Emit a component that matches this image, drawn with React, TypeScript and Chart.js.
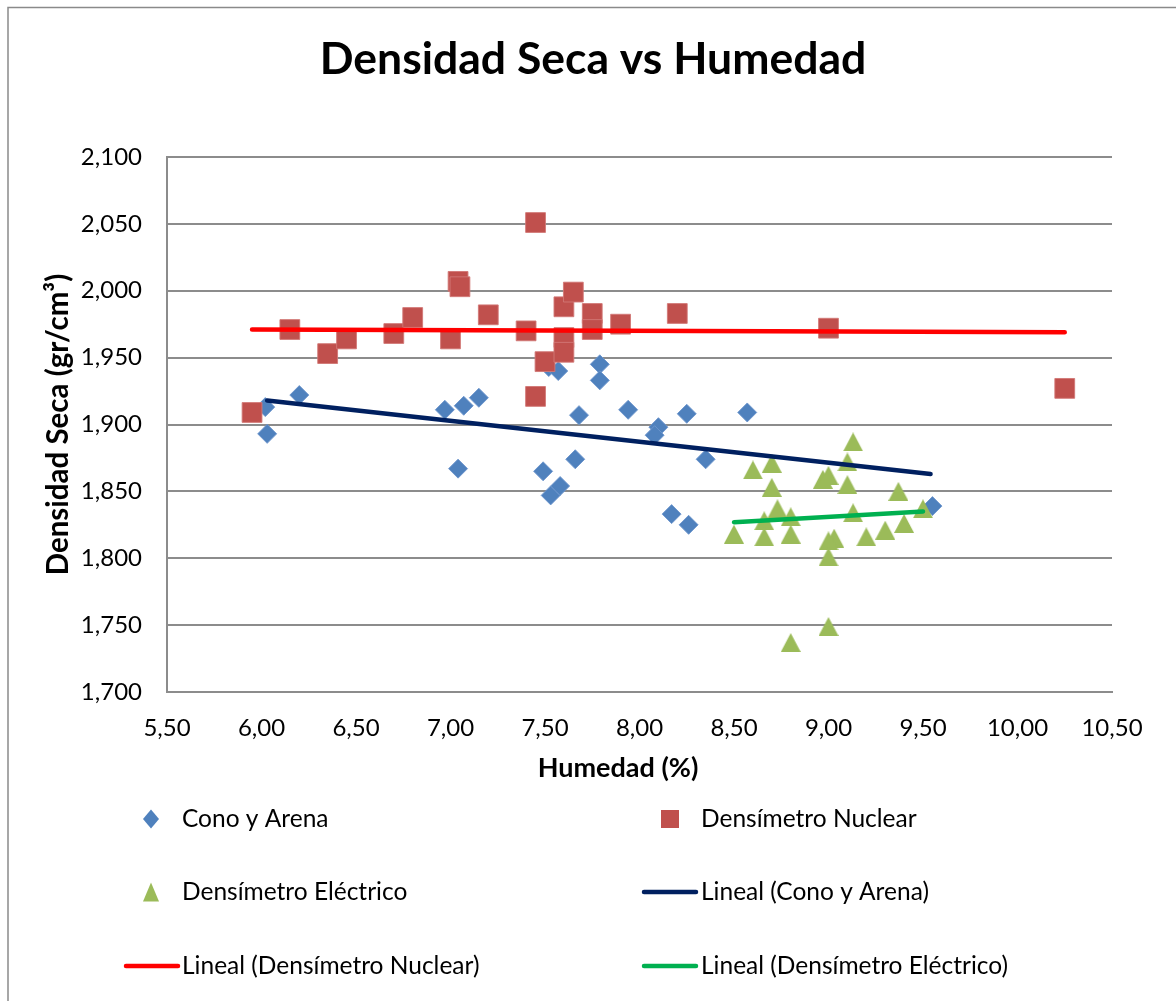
import React, { useEffect, useRef } from 'react';
import { Chart, registerables } from 'chart.js';

Chart.register(...registerables);

// ---------- Data ----------
const X_TICKS = [5.5, 6.0, 6.5, 7.0, 7.5, 8.0, 8.5, 9.0, 9.5, 10.0, 10.5];
const Y_TICKS = [1.7, 1.75, 1.8, 1.85, 1.9, 1.95, 2.0, 2.05, 2.1];

const CONO_X = [6.02, 6.03, 6.20, 6.97, 7.07, 7.15, 7.04, 7.49, 7.53, 7.58, 7.66, 7.68, 7.52, 7.57, 7.79, 7.79, 7.94, 8.10, 8.08, 8.25, 8.35, 8.17, 8.26, 8.57, 9.55];
const CONO_Y = [1.913, 1.893, 1.922, 1.911, 1.914, 1.920, 1.867, 1.865, 1.847, 1.854, 1.874, 1.907, 1.943, 1.940, 1.945, 1.933, 1.911, 1.898, 1.892, 1.908, 1.874, 1.833, 1.825, 1.909, 1.839];

const NUCLEAR_X = [5.95, 6.15, 6.35, 6.45, 6.70, 6.80, 7.00, 7.04, 7.05, 7.20, 7.40, 7.45, 7.45, 7.50, 7.60, 7.60, 7.60, 7.65, 7.75, 7.75, 7.90, 8.20, 9.00, 10.25];
const NUCLEAR_Y = [1.909, 1.971, 1.953, 1.964, 1.968, 1.980, 1.964, 2.007, 2.003, 1.982, 1.970, 2.051, 1.921, 1.947, 1.988, 1.965, 1.954, 1.999, 1.983, 1.971, 1.975, 1.983, 1.972, 1.927];

const ELECTRICO_X = [9.13, 9.10, 8.70, 8.60, 8.97, 9.00, 9.10, 8.70, 9.37, 9.50, 8.73, 8.80, 8.66, 9.13, 8.50, 8.66, 8.80, 9.03, 9.00, 9.00, 9.20, 9.30, 9.40, 9.00, 8.80];
const ELECTRICO_Y = [1.887, 1.872, 1.871, 1.866, 1.859, 1.862, 1.855, 1.853, 1.850, 1.837, 1.837, 1.831, 1.828, 1.834, 1.818, 1.816, 1.818, 1.815, 1.813, 1.801, 1.816, 1.821, 1.826, 1.749, 1.737];

// Trend line endpoints
const TREND_CONO_X = [6.03, 9.54];
const TREND_CONO_Y = [1.918, 1.863];
const TREND_NUCLEAR_X = [5.95, 10.25];
const TREND_NUCLEAR_Y = [1.971, 1.969];
const TREND_ELECTRICO_X = [8.50, 9.50];
const TREND_ELECTRICO_Y = [1.827, 1.835];

const TITLE = 'Densidad Seca vs Humedad';
const X_TITLE = 'Humedad (%)';
const Y_TITLE = 'Densidad Seca (gr/cm³)';
const LEGEND_LABELS = [
  'Cono y Arena',
  'Densímetro Nuclear',
  'Densímetro Eléctrico',
  'Lineal (Cono y Arena)',
  'Lineal (Densímetro Nuclear)',
  'Lineal (Densímetro Eléctrico)',
];

const BLUE = '#4F81BD';
const RED = '#C0504D';
const GREEN = '#9BBB59';
const NAVY = '#002060';
const TREND_RED = '#FF0000';
const TREND_GREEN = '#00B050';
const GRID = '#8c8c8c';
const FONT = 'Lato, "Open Sans", sans-serif';

const zip = (xs: number[], ys: number[]) => xs.map((x, i) => ({ x, y: ys[i] }));
const fmt = (v: number, d: number) => Number(v).toFixed(d).replace('.', ',');

function makeTriangle(color: string, w: number, h: number) {
  const c = document.createElement('canvas');
  c.width = w;
  c.height = h;
  const ctx = c.getContext('2d')!;
  ctx.fillStyle = color;
  ctx.beginPath();
  ctx.moveTo(w / 2, 0);
  ctx.lineTo(w, h);
  ctx.lineTo(0, h);
  ctx.closePath();
  ctx.fill();
  return c;
}

function drawDiamond(ctx: CanvasRenderingContext2D, x: number, y: number, rx: number, ry: number, color: string) {
  ctx.fillStyle = color;
  ctx.beginPath();
  ctx.moveTo(x, y - ry);
  ctx.lineTo(x + rx, y);
  ctx.lineTo(x, y + ry);
  ctx.lineTo(x - rx, y);
  ctx.closePath();
  ctx.fill();
}

const decorPlugin = {
  id: 'decor',
  beforeDraw(chart: any) {
    const ctx = chart.ctx as CanvasRenderingContext2D;
    ctx.save();
    ctx.strokeStyle = '#8a8a8a';
    ctx.lineWidth = 1.5;
    ctx.strokeRect(8, 7.5, 1200, 1100);
    ctx.restore();
  },
  afterDraw(chart: any) {
    const ctx = chart.ctx as CanvasRenderingContext2D;
    const area = chart.chartArea;
    ctx.save();
    ctx.fillStyle = '#000';
    // Title
    ctx.font = `bold 44.5px ${FONT}`;
    ctx.textAlign = 'center';
    ctx.textBaseline = 'alphabetic';
    ctx.fillText(TITLE, 593, 74);
    // X axis title
    ctx.font = `bold 27px ${FONT}`;
    ctx.fillText(X_TITLE, 618, 777);
    // Y axis title
    ctx.save();
    ctx.font = `bold 29.5px ${FONT}`;
    ctx.translate(68, (area.top + area.bottom) / 2);
    ctx.rotate(-Math.PI / 2);
    ctx.fillText(Y_TITLE, 0, 0);
    ctx.restore();

    // Legend
    ctx.font = `24.5px ${FONT}`;
    ctx.textAlign = 'left';
    ctx.textBaseline = 'middle';
    const rows = [819, 892, 966];
    const col1Text = 182;
    const col2Text = 701;
    // Row 1
    drawDiamond(ctx, 151, rows[0], 8, 9.5, BLUE);
    ctx.fillStyle = '#000';
    ctx.fillText(LEGEND_LABELS[0], col1Text, rows[0]);
    ctx.fillStyle = RED;
    ctx.fillRect(670 - 9, rows[0] - 9, 18, 18);
    ctx.fillStyle = '#000';
    ctx.fillText(LEGEND_LABELS[1], col2Text, rows[0]);
    // Row 2
    ctx.fillStyle = GREEN;
    ctx.beginPath();
    ctx.moveTo(151, rows[1] - 9.5);
    ctx.lineTo(159, rows[1] + 9.5);
    ctx.lineTo(143, rows[1] + 9.5);
    ctx.closePath();
    ctx.fill();
    ctx.fillStyle = '#000';
    ctx.fillText(LEGEND_LABELS[2], col1Text, rows[1]);
    ctx.lineWidth = 4.5;
    ctx.lineCap = 'round';
    ctx.strokeStyle = NAVY;
    ctx.beginPath();
    ctx.moveTo(644, rows[1]);
    ctx.lineTo(696, rows[1]);
    ctx.stroke();
    ctx.fillText(LEGEND_LABELS[3], col2Text, rows[1]);
    // Row 3
    ctx.strokeStyle = TREND_RED;
    ctx.beginPath();
    ctx.moveTo(126, rows[2]);
    ctx.lineTo(178, rows[2]);
    ctx.stroke();
    ctx.fillText(LEGEND_LABELS[4], col1Text, rows[2]);
    ctx.strokeStyle = TREND_GREEN;
    ctx.beginPath();
    ctx.moveTo(644, rows[2]);
    ctx.lineTo(696, rows[2]);
    ctx.stroke();
    ctx.fillText(LEGEND_LABELS[5], col2Text, rows[2]);
    ctx.restore();
  },
};

export default function App() {
  const ref = useRef<HTMLCanvasElement | null>(null);

  useEffect(() => {
    if (!ref.current) return;
    const tri = makeTriangle(GREEN, 20, 19);
    const trendDs = (xs: number[], ys: number[], color: string) => ({
      type: 'line' as const,
      data: zip(xs, ys),
      borderColor: color,
      backgroundColor: color,
      borderWidth: 4.5,
      borderCapStyle: 'round' as const,
      pointRadius: 0,
      showLine: true,
      fill: false,
      order: 0,
    });
    const chart = new Chart(ref.current, {
      type: 'scatter',
      data: {
        datasets: [
          {
            label: LEGEND_LABELS[0],
            data: zip(CONO_X, CONO_Y),
            pointStyle: 'rectRot',
            pointRadius: 9.5,
            backgroundColor: BLUE,
            borderColor: 'rgba(110,150,205,0.9)',
            borderWidth: 1,
            order: 3,
          },
          {
            label: LEGEND_LABELS[1],
            data: zip(NUCLEAR_X, NUCLEAR_Y),
            pointStyle: 'rect',
            pointRadius: 14,
            backgroundColor: RED,
            borderColor: 'rgba(210,120,118,0.9)',
            borderWidth: 1,
            order: 2,
          },
          {
            label: LEGEND_LABELS[2],
            data: zip(ELECTRICO_X, ELECTRICO_Y),
            pointStyle: tri as any,
            pointRadius: 10,
            backgroundColor: GREEN,
            borderColor: GREEN,
            order: 1,
          },
          { label: LEGEND_LABELS[3], ...trendDs(TREND_CONO_X, TREND_CONO_Y, NAVY) },
          { label: LEGEND_LABELS[4], ...trendDs(TREND_NUCLEAR_X, TREND_NUCLEAR_Y, TREND_RED) },
          { label: LEGEND_LABELS[5], ...trendDs(TREND_ELECTRICO_X, TREND_ELECTRICO_Y, TREND_GREEN) },
        ] as any,
      },
      options: {
        responsive: false,
        animation: false,
        layout: { padding: { top: 157, right: 64, bottom: 249, left: 0 } },
        plugins: {
          legend: { display: false },
          title: { display: false },
          tooltip: { enabled: false },
        },
        scales: {
          x: {
            type: 'linear',
            min: 5.5,
            max: 10.5,
            afterBuildTicks: (axis: any) => {
              axis.ticks = X_TICKS.map((v) => ({ value: v }));
            },
            afterFit: (axis: any) => {
              axis.height = 60;
            },
            ticks: {
              callback: (v: any) => fmt(v, 2),
              font: { family: FONT, size: 24 },
              color: '#000',
              padding: 22,
              maxRotation: 0,
              autoSkip: false,
            },
            grid: { display: false, drawTicks: false },
            border: { display: true, color: GRID, width: 2 },
          },
          y: {
            type: 'linear',
            min: 1.7,
            max: 2.1,
            afterBuildTicks: (axis: any) => {
              axis.ticks = Y_TICKS.map((v) => ({ value: v }));
            },
            afterFit: (axis: any) => {
              axis.width = 167;
            },
            ticks: {
              callback: (v: any) => fmt(v, 3),
              font: { family: FONT, size: 24 },
              color: '#000',
              padding: 25,
              autoSkip: false,
            },
            grid: { color: GRID, lineWidth: 2, drawTicks: false },
            border: { display: true, color: GRID, width: 2 },
          },
        },
      },
      plugins: [decorPlugin],
    });
    return () => chart.destroy();
  }, []);

  return (
    <div style={{ position: 'absolute', left: 0, top: 0, width: 1176, height: 1001, background: '#fff' }}>
      <canvas ref={ref} width={1176} height={1001} style={{ width: 1176, height: 1001, display: 'block' }} />
    </div>
  );
}
